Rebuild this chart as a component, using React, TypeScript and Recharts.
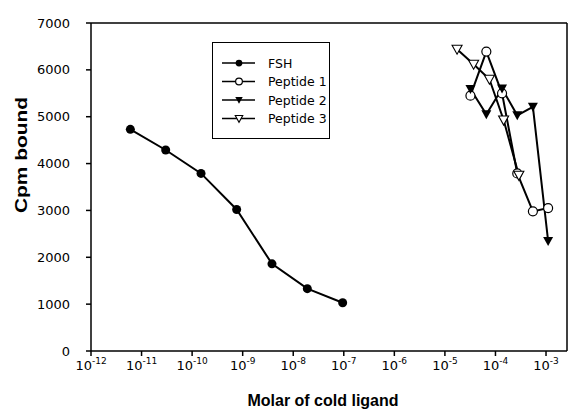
import { LineChart, Line, XAxis, YAxis, ReferenceLine, Legend } from "recharts";

// molar concentrations and counts
const fshConc = [6.0e-12, 3.0e-11, 1.5e-10, 7.6e-10, 3.8e-9, 1.9e-8, 9.5e-8];
const fshCpm = [4730, 4290, 3790, 3020, 1860, 1330, 1030];

const pep12Conc = [3.2e-5, 6.6e-5, 1.35e-4, 2.7e-4, 5.5e-4, 1.1e-3];
const pep1Cpm = [5450, 6390, 5500, 3790, 2980, 3050];
const pep2Cpm = [5590, 5050, 5600, 5030, 5210, 2350];

const pep3Conc = [1.74e-5, 3.7e-5, 7.6e-5, 1.45e-4, 2.9e-4];
const pep3Cpm = [6440, 6120, 5800, 4930, 3750];

const xTicks = [1e-12, 1e-11, 1e-10, 1e-9, 1e-8, 1e-7, 1e-6, 1e-5, 1e-4, 1e-3];
const xExponents = ["-12", "-11", "-10", "-9", "-8", "-7", "-6", "-5", "-4", "-3"];
const yTicks = [0, 1000, 2000, 3000, 4000, 5000, 6000, 7000];
const X_MAX = 2.6e-3;

const toRows = (xs: number[], ys: number[]) => xs.map((x, i) => ({ x, y: ys[i] }));

const FONT = "'DejaVu Sans', sans-serif";

type Shape = "dot" | "circle" | "tri" | "triOpen";

const Marker = ({ cx, cy, shape, size = 1 }: { cx: number; cy: number; shape: Shape; size?: number }) => {
  if (cx == null || cy == null) return null;
  if (shape === "dot") return <circle cx={cx} cy={cy} r={4.5 * size} fill="#000" />;
  if (shape === "circle")
    return <circle cx={cx} cy={cy} r={4.5 * size} fill="#fff" stroke="#000" strokeWidth={1.2} />;
  const w = 5 * size;
  const pts = `${cx - w},${cy - 4 * size} ${cx + w},${cy - 4 * size} ${cx},${cy + 5 * size}`;
  return shape === "tri" ? (
    <polygon points={pts} fill="#000" />
  ) : (
    <polygon points={pts} fill="#fff" stroke="#000" strokeWidth={1.1} />
  );
};

const series: { name: string; rows: { x: number; y: number }[]; shape: Shape }[] = [
  { name: "FSH", rows: toRows(fshConc, fshCpm), shape: "dot" },
  { name: "Peptide 1", rows: toRows(pep12Conc, pep1Cpm), shape: "circle" },
  { name: "Peptide 2", rows: toRows(pep12Conc, pep2Cpm), shape: "tri" },
  { name: "Peptide 3", rows: toRows(pep3Conc, pep3Cpm), shape: "triOpen" },
];

const XTick = ({ x, y, payload }: any) => {
  const idx = xTicks.indexOf(payload.value);
  return (
    <text x={x} y={y + 12} textAnchor="middle" fontFamily={FONT} fontSize={13} fill="#000">
      <tspan>10</tspan>
      <tspan dy={-6} fontSize={9}>
        {xExponents[idx]}
      </tspan>
    </text>
  );
};

const LegendBox = () => (
  <div style={{ border: "1.5px solid #000", background: "#fff", width: 116, height: 95 }}>
    <svg width={116} height={95}>
      {series.map((s, i) => {
        const cy = 20 + i * 18.5;
        return (
          <g key={s.name}>
            <line x1={9} x2={42} y1={cy} y2={cy} stroke="#000" strokeWidth={1.5} />
            <Marker cx={26} cy={cy} shape={s.shape} size={0.75} />
            <text x={55} y={cy} dy="0.36em" fontFamily={FONT} fontSize={12.5} fill="#000">
              {s.name}
            </text>
          </g>
        );
      })}
    </svg>
  </div>
);

export default function App() {
  return (
    <div style={{ position: "absolute", left: 0, top: 0, background: "#fff" }}>
      <LineChart width={569} height={412} margin={{ top: 23, right: 2, bottom: 0, left: 0 }}>
        <XAxis
          dataKey="x"
          type="number"
          scale="log"
          domain={[1e-12, X_MAX]}
          ticks={xTicks}
          interval={0}
          allowDataOverflow
          height={61}
          tickSize={5}
          stroke="#000"
          strokeWidth={1.5}
          tick={<XTick />}
          label={{
            content: () => (
              <text x={323} y={406} textAnchor="middle" fontFamily="Arial, 'Liberation Sans'" fontWeight="bold" fontSize={16} fill="#000">
                Molar of cold ligand
              </text>
            ),
          }}
        />
        <YAxis
          type="number"
          domain={[0, 7000]}
          ticks={yTicks}
          interval={0}
          width={91}
          tickSize={5}
          tickMargin={16}
          stroke="#000"
          strokeWidth={1.5}
          tick={{ fill: "#000", fontSize: 13, fontFamily: FONT }}
          label={{
            content: () => (
              <text
                x={21}
                y={155}
                transform="rotate(-90, 21, 155)"
                textAnchor="middle"
                dominantBaseline="central"
                fontFamily="Arial, 'Liberation Sans'"
                fontWeight="bold"
                fontSize={16}
                textLength={116}
                lengthAdjust="spacingAndGlyphs"
                fill="#000"
              >
                Cpm bound
              </text>
            ),
          }}
        />
        <ReferenceLine y={7000} stroke="#000" strokeWidth={1.5} />
        <ReferenceLine x={X_MAX} stroke="#000" strokeWidth={1.5} />
        <Legend
          layout="vertical"
          align="center"
          verticalAlign="middle"
          wrapperStyle={{ left: 212, top: 42, width: "auto" }}
          content={() => <LegendBox />}
        />
        {series.map((s) => (
          <Line
            key={s.name}
            data={s.rows}
            dataKey="y"
            name={s.name}
            type="linear"
            stroke="#000"
            strokeWidth={2}
            isAnimationActive={false}
            dot={(p: any) => <Marker key={`${s.name}-${p.index}`} cx={p.cx} cy={p.cy} shape={s.shape} />}
            activeDot={false}
          />
        ))}
      </LineChart>
    </div>
  );
}
